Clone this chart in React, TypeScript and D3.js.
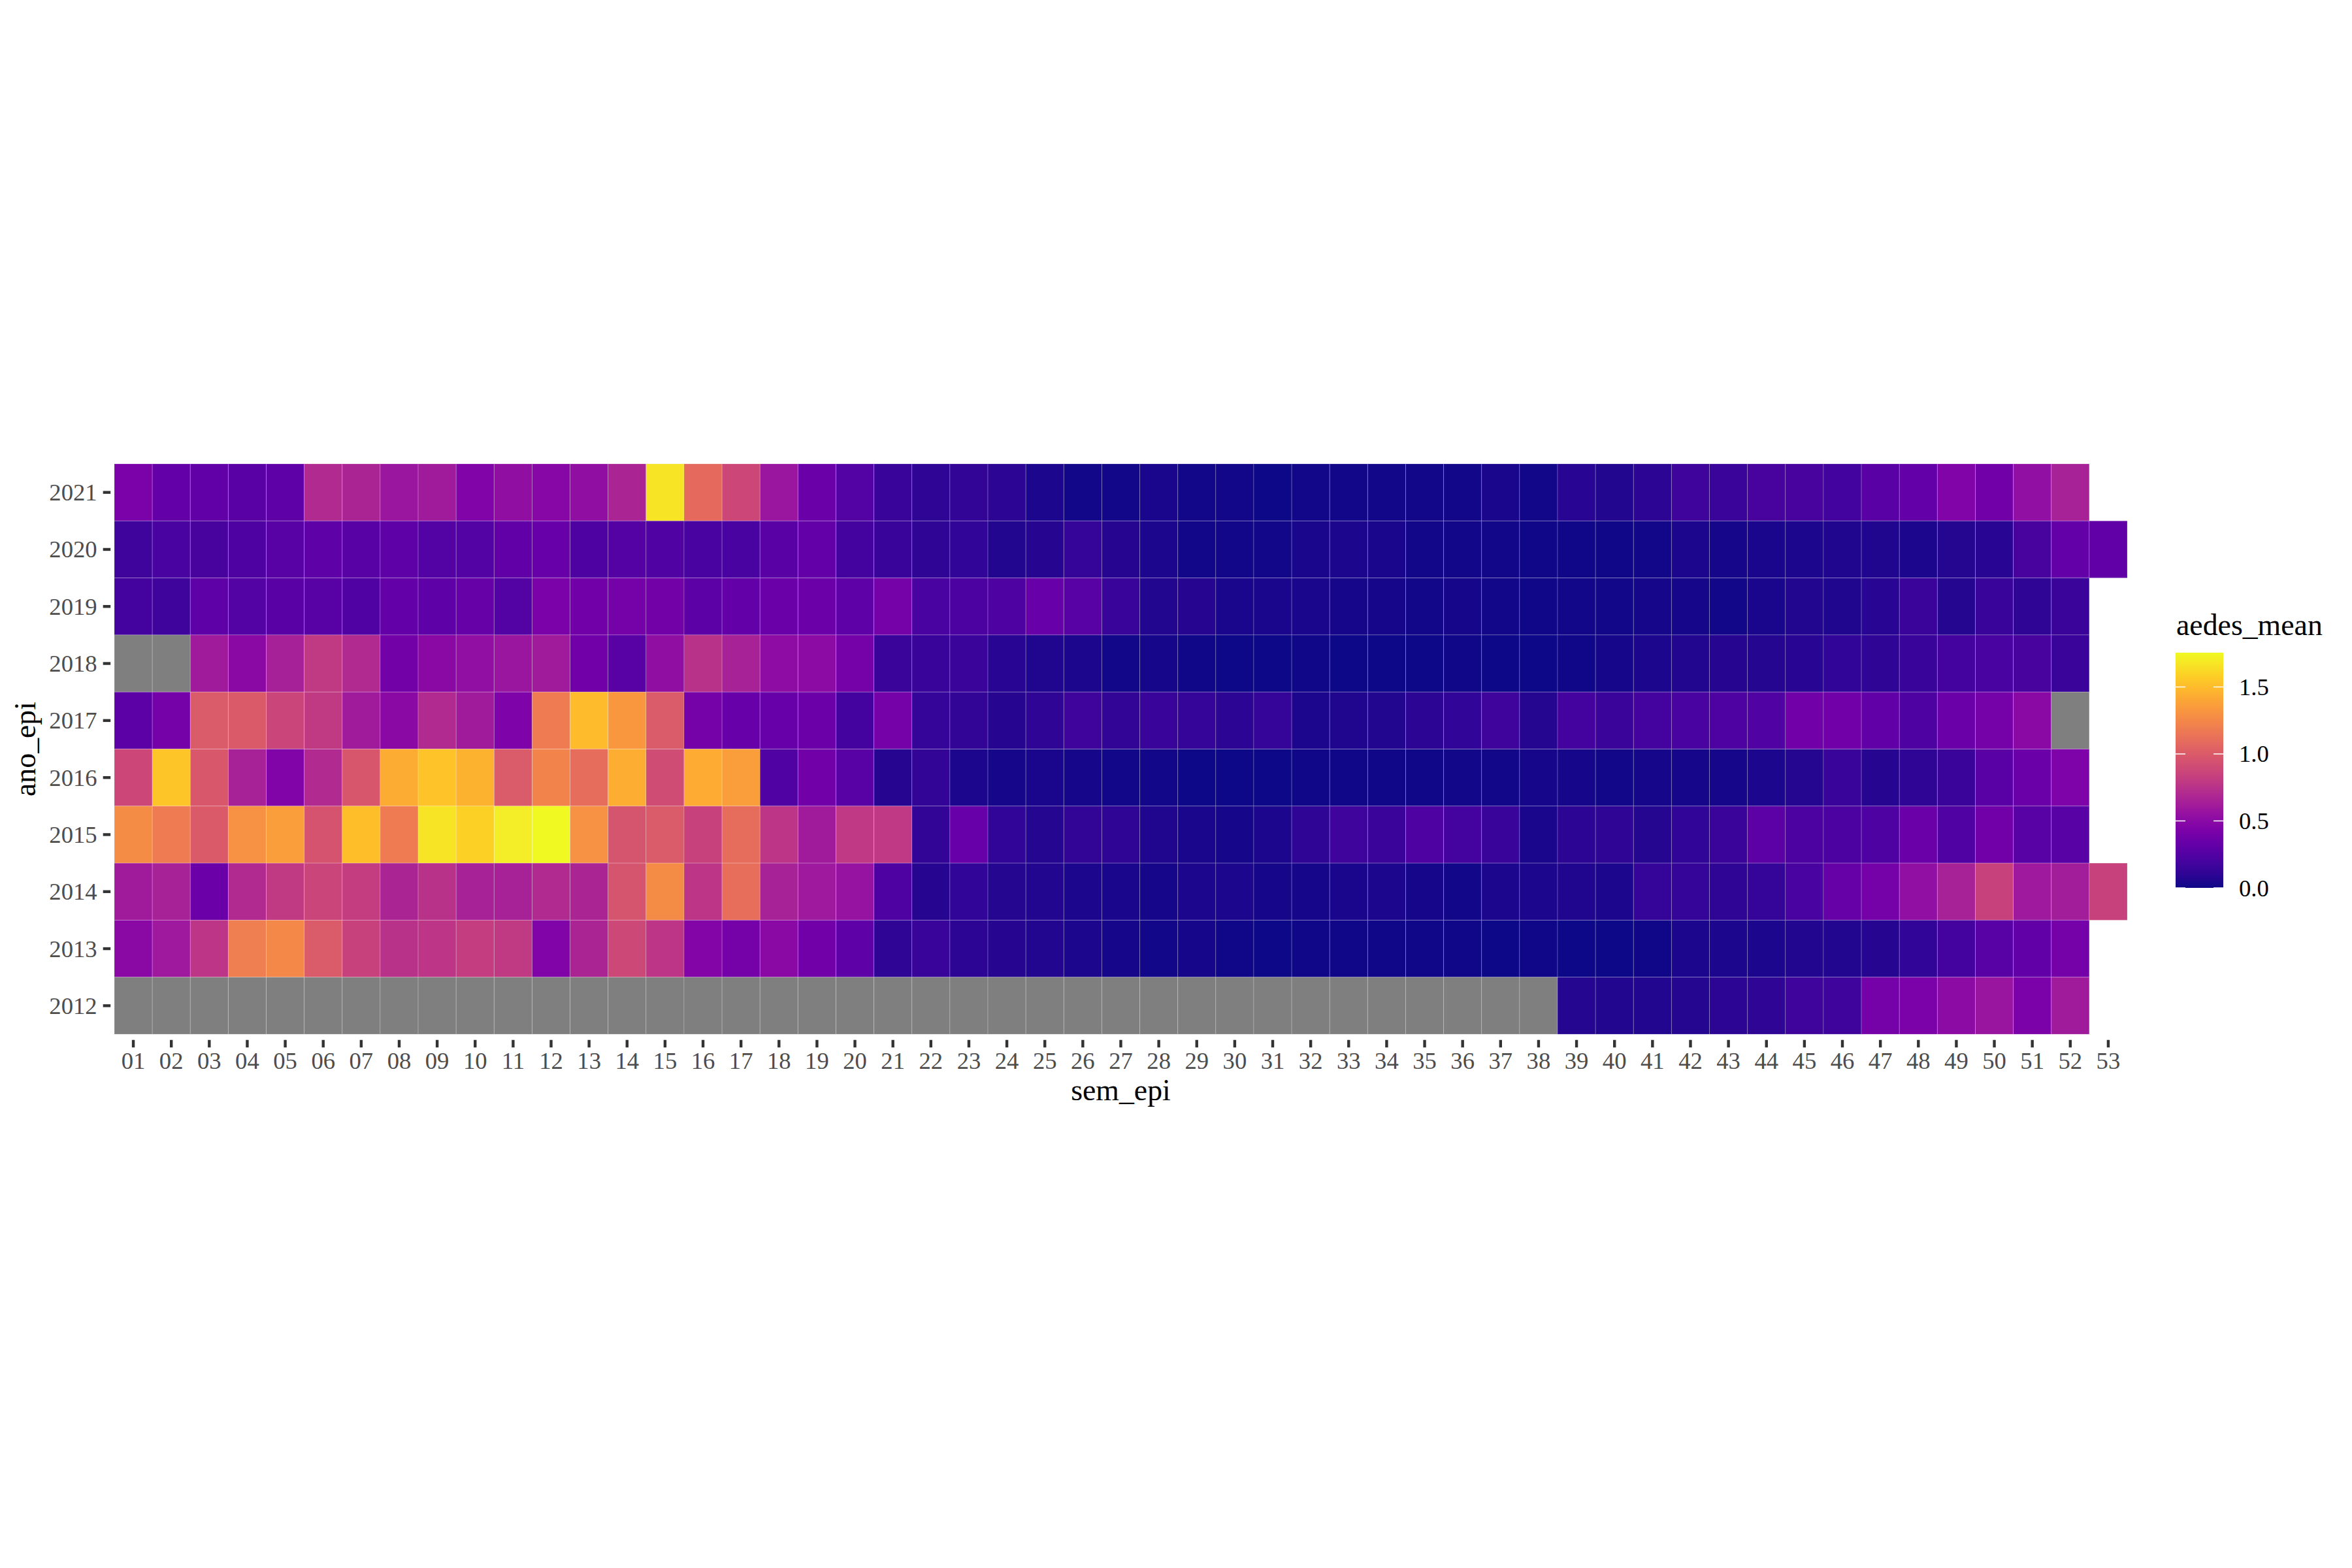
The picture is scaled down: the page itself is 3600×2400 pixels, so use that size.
import * as d3 from "d3";

const width = 3600;
const height = 2400;

const tileLeft = 175;
const tileRight = 3256;
const tileTop = 710;
const tileBottom = 1583;

const weeks = [
  "01", "02", "03", "04", "05", "06", "07", "08", "09", "10",
  "11", "12", "13", "14", "15", "16", "17", "18", "19", "20",
  "21", "22", "23", "24", "25", "26", "27", "28", "29", "30",
  "31", "32", "33", "34", "35", "36", "37", "38", "39", "40",
  "41", "42", "43", "44", "45", "46", "47", "48", "49", "50",
  "51", "52", "53",
];

const years = ["2021", "2020", "2019", "2018", "2017", "2016", "2015", "2014", "2013", "2012"];

const NA = null;

// aedes_mean by week, one array per year (null = NA, shorter array = no week 53)
const y2021 = [
  0.42, 0.32, 0.31, 0.28, 0.30, 0.70, 0.67, 0.58, 0.61, 0.45,
  0.53, 0.48, 0.53, 0.67, 1.67, 1.09, 0.88, 0.58, 0.35, 0.25,
  0.14, 0.10, 0.12, 0.09, 0.045, 0.02, 0.02, 0.03, 0.015, 0.015,
  0.005, 0.015, 0.015, 0.015, 0.02, 0.02, 0.03, 0.02, 0.08, 0.06,
  0.09, 0.16, 0.15, 0.20, 0.20, 0.18, 0.28, 0.32, 0.45, 0.38,
  0.54, 0.65,
];
const y2020 = [
  0.17, 0.21, 0.20, 0.23, 0.27, 0.30, 0.27, 0.30, 0.25, 0.25,
  0.31, 0.34, 0.23, 0.26, 0.24, 0.21, 0.21, 0.28, 0.32, 0.19,
  0.14, 0.10, 0.11, 0.06, 0.07, 0.13, 0.07, 0.04, 0.015, 0.02,
  0.02, 0.03, 0.035, 0.03, 0.015, 0.015, 0.015, 0.01, 0.01, 0.01,
  0.015, 0.035, 0.025, 0.03, 0.045, 0.05, 0.05, 0.035, 0.065, 0.08,
  0.20, 0.32, 0.31,
];
const y2019 = [
  0.19, 0.17, 0.30, 0.25, 0.28, 0.27, 0.24, 0.32, 0.30, 0.33,
  0.25, 0.42, 0.38, 0.40, 0.39, 0.29, 0.32, 0.35, 0.36, 0.30,
  0.40, 0.21, 0.22, 0.23, 0.34, 0.27, 0.14, 0.06, 0.07, 0.03,
  0.03, 0.03, 0.025, 0.025, 0.015, 0.025, 0.015, 0.01, 0.015, 0.02,
  0.025, 0.025, 0.02, 0.03, 0.06, 0.05, 0.08, 0.15, 0.065, 0.14,
  0.10, 0.15,
];
const y2018 = [
  NA, NA, 0.61, 0.50, 0.64, 0.80, 0.70, 0.39, 0.50, 0.54,
  0.58, 0.61, 0.38, 0.27, 0.53, 0.75, 0.65, 0.52, 0.51, 0.40,
  0.15, 0.14, 0.145, 0.08, 0.05, 0.045, 0.02, 0.025, 0.01, 0.005,
  0.005, 0.01, 0.005, 0.005, 0.005, 0.01, 0.005, 0.005, 0.01, 0.025,
  0.045, 0.06, 0.07, 0.065, 0.08, 0.11, 0.10, 0.14, 0.19, 0.21,
  0.20, 0.15,
];
const y2017 = [
  0.29, 0.40, 1.00, 0.99, 0.87, 0.80, 0.61, 0.50, 0.70, 0.61,
  0.44, 1.18, 1.50, 1.33, 1.00, 0.40, 0.34, 0.34, 0.36, 0.19,
  0.40, 0.13, 0.12, 0.075, 0.10, 0.16, 0.12, 0.14, 0.13, 0.09,
  0.13, 0.045, 0.05, 0.06, 0.09, 0.11, 0.16, 0.065, 0.19, 0.15,
  0.19, 0.21, 0.23, 0.24, 0.38, 0.38, 0.31, 0.23, 0.35, 0.40,
  0.50, NA,
];
const y2016 = [
  0.88, 1.54, 0.98, 0.65, 0.45, 0.70, 0.97, 1.43, 1.53, 1.46,
  1.00, 1.23, 1.10, 1.44, 0.91, 1.42, 1.36, 0.24, 0.38, 0.27,
  0.075, 0.12, 0.04, 0.025, 0.03, 0.025, 0.02, 0.015, 0.005, 0.005,
  0.005, 0.01, 0.01, 0.01, 0.01, 0.015, 0.015, 0.025, 0.025, 0.02,
  0.025, 0.025, 0.025, 0.035, 0.065, 0.14, 0.075, 0.10, 0.145, 0.28,
  0.35, 0.44,
];
const y2015 = [
  1.27, 1.18, 0.99, 1.30, 1.36, 0.95, 1.51, 1.18, 1.67, 1.59,
  1.71, 1.75, 1.30, 0.96, 1.00, 0.85, 1.10, 0.77, 0.61, 0.79,
  0.79, 0.12, 0.34, 0.11, 0.065, 0.12, 0.10, 0.05, 0.03, 0.025,
  0.045, 0.10, 0.17, 0.15, 0.23, 0.19, 0.14, 0.03, 0.09, 0.10,
  0.065, 0.11, 0.15, 0.29, 0.22, 0.22, 0.23, 0.35, 0.24, 0.38,
  0.27, 0.27,
];
const y2014 = [
  0.61, 0.65, 0.36, 0.70, 0.80, 0.87, 0.82, 0.67, 0.75, 0.65,
  0.65, 0.70, 0.67, 0.96, 1.27, 0.77, 1.11, 0.65, 0.60, 0.56,
  0.23, 0.075, 0.11, 0.065, 0.06, 0.04, 0.03, 0.025, 0.045, 0.035,
  0.025, 0.025, 0.03, 0.035, 0.025, 0.02, 0.045, 0.04, 0.05, 0.045,
  0.13, 0.13, 0.10, 0.13, 0.21, 0.33, 0.40, 0.54, 0.65, 0.85,
  0.60, 0.62, 0.85,
];
const y2013 = [
  0.50, 0.60, 0.77, 1.20, 1.25, 1.00, 0.85, 0.75, 0.77, 0.82,
  0.80, 0.45, 0.67, 0.89, 0.77, 0.46, 0.40, 0.50, 0.38, 0.30,
  0.10, 0.14, 0.09, 0.07, 0.06, 0.035, 0.025, 0.02, 0.025, 0.01,
  0.005, 0.01, 0.01, 0.01, 0.01, 0.01, 0.005, 0.01, 0.005, 0.0,
  0.01, 0.045, 0.035, 0.04, 0.055, 0.055, 0.075, 0.11, 0.19, 0.27,
  0.31, 0.40,
];
const y2012 = [
  NA, NA, NA, NA, NA, NA, NA, NA, NA, NA,
  NA, NA, NA, NA, NA, NA, NA, NA, NA, NA,
  NA, NA, NA, NA, NA, NA, NA, NA, NA, NA,
  NA, NA, NA, NA, NA, NA, NA, NA, 0.065, 0.06,
  0.06, 0.065, 0.09, 0.10, 0.17, 0.17, 0.40, 0.42, 0.51, 0.57,
  0.42, 0.61,
];

const yearValues = [y2021, y2020, y2019, y2018, y2017, y2016, y2015, y2014, y2013, y2012];

const legendTicks = [0, 0.5, 1, 1.5];
const valueMax = 1.756;

const font = "'Liberation Serif', 'Times New Roman', serif";

function App() {
  const x = d3.scaleBand<string>().domain(weeks).range([tileLeft, tileRight]).padding(0);
  const y = d3.scaleBand<string>().domain(years).range([tileTop, tileBottom]).padding(0);
  const color = d3.scaleSequential(d3.interpolatePlasma).domain([0, valueMax]);

  // ggplot discrete expansion: panel reaches 0.1 cell past the tiles
  const panelLeft = tileLeft - 0.1 * x.bandwidth();
  const panelBottom = tileBottom + 0.1 * y.bandwidth();

  const cells: { week: string; year: string; v: number | null }[] = [];
  years.forEach((yr, i) => {
    yearValues[i].forEach((v, j) => {
      cells.push({ week: weeks[j], year: yr, v });
    });
  });

  // legend
  const barX = 3330;
  const barW = 73;
  const barTop = 999;
  const barBottom = 1359;
  const legendY = d3.scaleLinear().domain([0, valueMax]).range([barBottom, barTop]);
  const stops = d3.range(0, 1.0001, 0.05);

  return (
    <svg width={width} height={height} style={{ position: "absolute", left: 0, top: 0 }}>
      <rect width={width} height={height} fill="white" />
      <g>
        {cells.map((c) => (
          <rect
            key={c.year + c.week}
            x={x(c.week)}
            y={y(c.year)}
            width={x.bandwidth()}
            height={y.bandwidth()}
            fill={c.v === null ? "#7f7f7f" : color(c.v)}
            stroke="rgba(255,255,255,0.22)"
            strokeWidth={1}
          />
        ))}
      </g>
      {/* y axis */}
      <g fontFamily={font} fontSize={36.7} fill="#4d4d4d">
        {years.map((yr) => {
          const cy = (y(yr) as number) + y.bandwidth() / 2;
          return (
            <g key={yr}>
              <line x1={panelLeft - 11.5} x2={panelLeft} y1={cy} y2={cy} stroke="#333333" strokeWidth={4.4} />
              <text x={panelLeft - 20.5} y={cy} textAnchor="end" dominantBaseline="central">
                {yr}
              </text>
            </g>
          );
        })}
      </g>
      {/* x axis */}
      <g fontFamily={font} fontSize={36.7} fill="#4d4d4d">
        {weeks.map((w) => {
          const cx = (x(w) as number) + x.bandwidth() / 2;
          return (
            <g key={w}>
              <line x1={cx} x2={cx} y1={panelBottom} y2={panelBottom + 11.5} stroke="#333333" strokeWidth={4.4} />
              <text x={cx} y={1636} textAnchor="middle">
                {w}
              </text>
            </g>
          );
        })}
      </g>
      <text x={(tileLeft + tileRight) / 2} y={1684} textAnchor="middle" fontFamily={font} fontSize={45.8} fill="black">
        sem_epi
      </text>
      <text
        transform={`translate(54,${(tileTop + tileBottom) / 2}) rotate(-90)`}
        textAnchor="middle"
        fontFamily={font}
        fontSize={45.8}
        fill="black"
      >
        ano_epi
      </text>
      {/* legend */}
      <defs>
        <linearGradient id="plasmaBar" x1="0" y1="1" x2="0" y2="0">
          {stops.map((t) => (
            <stop key={t} offset={t} stopColor={d3.interpolatePlasma(t)} />
          ))}
        </linearGradient>
      </defs>
      <text x={3331} y={972} fontFamily={font} fontSize={45.8} fill="black">
        aedes_mean
      </text>
      <rect x={barX} y={barTop} width={barW} height={barBottom - barTop} fill="url(#plasmaBar)" />
      {legendTicks.map((t) => (
        <g key={t}>
          <line x1={barX} x2={barX + 15} y1={legendY(t)} y2={legendY(t)} stroke="white" strokeWidth={1.5} />
          <line x1={barX + barW - 15} x2={barX + barW} y1={legendY(t)} y2={legendY(t)} stroke="white" strokeWidth={1.5} />
          <text x={3427} y={legendY(t)} dominantBaseline="central" fontFamily={font} fontSize={36.7} fill="black">
            {t.toFixed(1)}
          </text>
        </g>
      ))}
    </svg>
  );
}

export default App;
